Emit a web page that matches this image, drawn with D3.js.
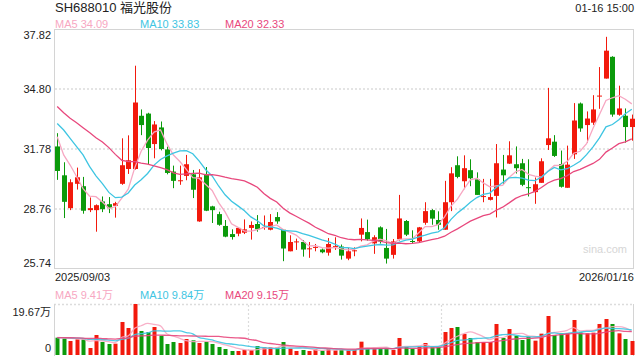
<!DOCTYPE html>
<html><head><meta charset="utf-8">
<script src="https://cdn.jsdelivr.net/npm/d3@7/dist/d3.min.js"></script>
<style>
html,body{margin:0;padding:0;background:#fff;}
svg{display:block;font-family:"Liberation Sans",Arial,"Noto Sans CJK SC",sans-serif;}
</style></head>
<body><svg id="c" width="640" height="360"></svg>
<script>
const title = "SH688010 福光股份";
const timeLabel = "01-16 15:00";
const dateLabels = ["2025/09/03", "2026/01/16"];
const priceTicks = [37.82, 34.80, 31.78, 28.76, 25.74];
const volMaxLabel = "19.67万";
const priceLegend = [["MA5", "34.09"], ["MA10", "33.83"], ["MA20", "32.33"]];
const volLegend = [["MA5", "9.41万"], ["MA10", "9.84万"], ["MA20", "9.15万"]];

const open = [31.91,30.45,28.79,30.02,29.90,28.69,28.69,29.13,28.99,28.91,30.02,30.77,30.77,33.46,33.57,32.03,32.87,31.76,30.64,30.17,
30.42,30.50,28.12,30.52,28.88,28.49,27.89,27.48,27.50,27.55,27.79,27.99,27.80,27.70,28.34,27.70,26.61,27.08,27.08,26.73,
26.80,26.70,26.54,26.85,26.85,26.24,26.63,27.45,27.58,27.01,27.82,26.78,26.43,27.22,28.14,27.13,27.11,28.05,28.69,28.19,
27.70,29.09,30.96,30.15,30.71,30.25,29.36,29.21,29.41,30.74,31.04,31.01,31.06,29.85,29.60,30.07,31.98,32.15,31.02,29.82,
31.51,34.08,32.99,33.11,34.45,35.34,36.44,33.51,33.46,32.89];
const high = [32.58,31.11,30.25,30.84,30.37,29.33,28.98,29.38,29.35,29.11,32.32,32.47,35.99,33.78,33.61,33.19,33.17,31.90,30.94,30.94,
31.48,30.72,30.76,30.87,28.91,28.61,28.19,27.72,27.80,28.22,28.12,28.44,28.42,28.49,28.59,27.72,27.42,27.25,27.18,27.08,
26.98,26.75,27.28,27.32,26.95,26.78,26.81,28.27,28.21,27.42,27.87,27.74,27.23,29.46,28.19,27.67,27.84,29.09,28.74,28.63,
30.17,30.86,31.41,31.46,31.26,30.60,30.27,30.27,32.03,31.48,32.17,31.91,31.28,31.26,30.34,31.31,34.87,32.48,31.70,31.95,
34.10,34.13,33.68,34.50,35.92,37.45,36.47,34.98,33.83,33.52];
const low = [30.22,28.29,28.69,29.73,28.51,28.59,27.60,28.59,28.54,28.31,29.97,30.52,30.74,32.48,30.97,31.31,31.71,30.50,29.80,29.97,
30.20,29.30,28.10,28.64,28.04,27.90,27.32,27.20,27.37,27.48,27.20,27.60,27.70,27.67,28.00,26.11,26.61,26.68,26.34,26.28,
26.61,26.51,26.39,26.68,26.19,26.16,26.36,27.11,27.15,26.48,27.00,25.99,26.24,27.15,27.38,27.01,27.06,27.95,27.95,27.70,
27.70,28.64,30.30,29.75,29.90,29.46,29.09,29.18,28.32,29.97,31.02,30.54,29.90,29.38,29.01,30.07,31.73,31.38,29.83,29.82,
31.28,32.65,32.10,33.00,33.81,35.34,33.41,33.46,32.10,32.20];
const close = [30.67,29.11,30.10,30.35,28.66,28.79,28.94,28.74,28.79,29.04,30.96,31.21,34.13,32.99,31.83,33.02,31.78,30.57,30.17,30.20,
31.01,29.72,30.35,28.66,28.69,27.95,27.35,27.33,27.79,27.72,27.94,27.72,27.84,28.09,28.12,26.75,27.08,27.11,26.70,26.76,
26.83,26.56,26.98,26.88,26.39,26.61,26.66,27.79,27.22,27.32,27.11,26.24,27.11,28.27,27.45,27.10,27.82,28.64,28.26,27.95,
29.09,30.55,30.37,30.81,30.30,29.46,29.40,29.35,31.06,30.45,31.46,30.81,29.97,29.82,30.00,31.16,32.32,31.43,29.87,30.99,
33.22,32.82,33.32,33.78,34.48,36.75,33.52,33.83,32.89,33.31];
// closes of the 19 sessions before the first visible one (estimated from the MA lines)
const priorClose = [35.51,35.70,34.75,33.66,33.79,34.14,32.94,34.59,35.84,36.96,32.41,34.30,34.55,32.86,34.58,33.71,32.65,33.25,31.72];
// volume in 万
const volume = [6.69,6.43,5.40,6.04,6.04,2.70,7.71,5.01,4.24,4.37,12.73,10.41,19.67,9.26,8.87,10.80,7.46,4.24,5.01,4.63,
6.17,5.66,4.63,5.14,4.24,3.09,2.31,1.54,1.54,1.93,1.93,3.47,2.96,2.96,2.96,5.01,2.44,1.54,1.93,1.54,
2.19,1.67,2.44,1.80,1.93,1.80,2.19,5.14,2.44,2.44,2.44,2.44,1.93,6.56,3.21,2.44,3.21,4.63,2.96,3.09,
8.87,10.41,10.80,8.10,6.56,5.01,5.01,5.01,11.96,6.56,10.03,7.46,5.79,7.07,5.53,8.23,15.04,7.71,8.36,8.36,
13.50,8.74,8.36,8.61,11.96,13.88,11.96,8.36,6.17,5.40];
const priorVolume = [7.2,6.1,6.8,7.5,6.3,5.9,7.0,6.6,6.4,7.3,6.9,6.2,7.1,6.5,6.8,7.4,6.0,6.7,7.0];

const RED = "#f2190c", GREEN = "#0b9a0b";
const C5 = "#f7a7c2", C10 = "#3ec5e2", C20 = "#e8487d";
const GRID = "#dcdcdc", FRAME = "#d4d4d4", TXT = "#222";

const svg = d3.select("#c");
const n = close.length;
const idx = d3.range(n);
const x = d3.scaleBand().domain(idx).range([54, 635]).paddingInner(0.28).paddingOuter(0.14);
const cx = i => x(i) + x.bandwidth() / 2;
const step = x.step();

const yP = d3.scaleLinear().domain([25.74, 37.82]).range([268.5, 29.5]);
const yV = d3.scaleLinear().domain([0, 19.67]).range([355, 304]);

function movingAvg(prior, vals, k) {
  const all = prior.concat(vals);
  const off = prior.length;
  return vals.map((v, i) => d3.mean(all.slice(off + i - k + 1, off + i + 1)));
}

// ---------- text ----------
svg.append("text").attr("x", 55).attr("y", 12).attr("font-size", 13).attr("fill", TXT).text(title);
svg.append("text").attr("x", 634).attr("y", 12).attr("text-anchor", "end").attr("font-size", 11).attr("fill", TXT).text(timeLabel);
const legX = [55, 140, 225], legC = [C5, C10, C20];
priceLegend.forEach((d, k) => svg.append("text").attr("x", legX[k]).attr("y", 28).attr("font-size", 11).attr("fill", legC[k]).text(d[0] + " " + d[1]));
volLegend.forEach((d, k) => svg.append("text").attr("x", legX[k]).attr("y", 299).attr("font-size", 11).attr("fill", legC[k]).text(d[0] + " " + d[1]));

// ---------- price panel ----------
svg.append("rect").attr("x", 54.5).attr("y", 29.5).attr("width", 579).attr("height", 239)
  .attr("fill", "none").attr("stroke", FRAME);
priceTicks.slice(1, -1).forEach(t => svg.append("line").attr("x1", 55).attr("x2", 633)
  .attr("y1", Math.round(yP(t))).attr("y2", Math.round(yP(t)))
  .attr("stroke", GRID).attr("stroke-width", 1.6).attr("stroke-dasharray", "2,2"));
priceTicks.forEach((t, k) => {
  let yy = yP(t) + 4;
  if (k === 0) yy = yP(t) + 9;
  if (k === priceTicks.length - 1) yy = yP(t) - 2;
  svg.append("text").attr("x", 51).attr("y", yy).attr("text-anchor", "end").attr("font-size", 11).attr("fill", TXT).text(t.toFixed(2));
});
svg.append("text").attr("x", 583).attr("y", 253).attr("font-size", 11).attr("fill", "#d6d6d6").text("sina.com");

const g = svg.append("g");
idx.forEach(i => {
  const up = close[i] >= open[i];
  const col = up ? RED : GREEN;
  const xc = Math.round(cx(i)) + 0.5;
  g.append("line").attr("x1", xc).attr("x2", xc).attr("y1", yP(high[i])).attr("y2", yP(low[i])).attr("stroke", col).attr("stroke-width", 1);
  const top = yP(Math.max(open[i], close[i])), bot = yP(Math.min(open[i], close[i]));
  g.append("rect").attr("x", xc - 2.5).attr("width", 5).attr("y", top).attr("height", Math.max(1, bot - top)).attr("fill", col);
});

const lineP = d3.line().x((d, i) => cx(i)).y(d => yP(d));
[[5, C5], [10, C10], [20, C20]].forEach(([k, c]) => {
  svg.append("path").attr("d", lineP(movingAvg(priorClose, close, k))).attr("fill", "none").attr("stroke", c).attr("stroke-width", 1.3);
});

// dates
svg.append("text").attr("x", 55).attr("y", 281).attr("font-size", 11).attr("fill", TXT).text(dateLabels[0]);
svg.append("text").attr("x", 634).attr("y", 281).attr("text-anchor", "end").attr("font-size", 11).attr("fill", TXT).text(dateLabels[1]);

// ---------- volume panel ----------
svg.append("line").attr("x1", 54).attr("x2", 634).attr("y1", 304.5).attr("y2", 304.5).attr("stroke", GRID).attr("stroke-width", 1.4).attr("stroke-dasharray", "2,2");
svg.append("line").attr("x1", 54.5).attr("x2", 54.5).attr("y1", 304).attr("y2", 356).attr("stroke", FRAME);
svg.append("line").attr("x1", 633.5).attr("x2", 633.5).attr("y1", 304).attr("y2", 356).attr("stroke", FRAME);
[30, 60].forEach(b => {
  const xx = Math.round(x(b) - step * 0.14) + 0.5;
  svg.append("line").attr("x1", xx).attr("x2", xx).attr("y1", 305).attr("y2", 356).attr("stroke", GRID).attr("stroke-width", 1.2).attr("stroke-dasharray", "2,2");
});
svg.append("text").attr("x", 51).attr("y", 316).attr("text-anchor", "end").attr("font-size", 11).attr("fill", TXT).text(volMaxLabel);
svg.append("text").attr("x", 51).attr("y", 352).attr("text-anchor", "end").attr("font-size", 11).attr("fill", TXT).text("0");

idx.forEach(i => {
  const col = close[i] >= open[i] ? RED : GREEN;
  const xc = Math.round(cx(i));
  svg.append("rect").attr("x", xc - 1.5).attr("width", 4).attr("y", yV(volume[i])).attr("height", yV(0) - yV(volume[i])).attr("fill", col);
});
const lineV = d3.line().x((d, i) => cx(i)).y(d => yV(d)).curve(d3.curveMonotoneX);
[[5, C5], [10, C10], [20, C20]].forEach(([k, c]) => {
  svg.append("path").attr("d", lineV(movingAvg(priorVolume, volume, k))).attr("fill", "none").attr("stroke", c).attr("stroke-width", 1.3).attr("opacity", 0.9);
});
</script></body></html>
